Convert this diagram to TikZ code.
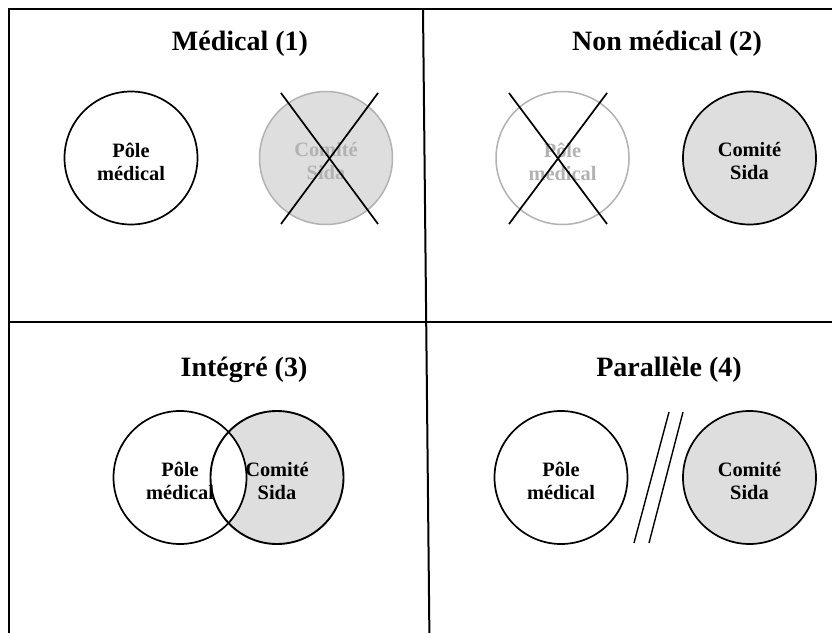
\documentclass[tikz,border=0pt]{standalone}
\usepackage{fontspec}
\setmainfont{Liberation Serif}
\begin{document}
\begin{tikzpicture}[x=1pt,y=-1pt,
  frame/.style={line width=2pt,black},
  circ/.style={circle,draw=black,line width=1.7pt,minimum size=133pt,inner sep=0pt},
  ghost/.style={circ,draw=black!30,line width=1.5pt},
  lbl/.style={align=center,inner sep=0pt,font=\fontsize{20.4}{23}\selectfont\bfseries},
  ghostlbl/.style={lbl,text=black!30},
  grayfill/.style={fill=black!13},
  title/.style={font=\fontsize{28}{32}\selectfont\bfseries,inner sep=0pt},
  cross/.style={line width=1.7pt,black},
  par/.style={line width=1.4pt,black}]
\useasboundingbox (0,0) rectangle (832,632);
\clip (0,0) rectangle (832,632);
\fill[white] (0,0) rectangle (832,632);
% frame
\draw[frame] (9,645) -- (9,9) -- (845,9);
\draw[frame] (9,322) -- (845,322);
\draw[frame] (423,9) -- (429.5,645);
% panel 1
\node[title] (t1) at (240,44) {Médical (1)};
\node[circ] (p1) at (131,158) {};
\node[lbl] (p1t) at (131,161.5) {Pôle\\médical};
\node[ghost,grayfill] (c1) at (326,158) {};
\node[ghostlbl] (c1t) at (326,161.5) {Comité\\Sida};
\coordinate (x1a) at (281,93); \coordinate (x1b) at (378,224);
\coordinate (x1c) at (378,93); \coordinate (x1d) at (281,224);
\draw[cross] (x1a) -- (x1b);
\draw[cross] (x1c) -- (x1d);
% panel 2
\node[title] (t2) at (667,44) {Non médical (2)};
\node[ghost] (p2) at (562.5,158) {};
\node[ghostlbl] (p2t) at (562.5,161.5) {Pôle\\médical};
\node[circ,grayfill] (c2) at (749.5,158) {};
\node[lbl] (c2t) at (749.5,161.5) {Comité\\Sida};
\coordinate (x2a) at (509,93); \coordinate (x2b) at (607,224);
\coordinate (x2c) at (607,93); \coordinate (x2d) at (509,224);
\draw[cross] (x2a) -- (x2b);
\draw[cross] (x2c) -- (x2d);
% panel 3
\node[title] (t3) at (244,370) {Intégré (3)};
\node[circ,grayfill,draw=none] (c3) at (277,477.5) {};
\node[circ,fill=white,draw=none] (p3) at (180,477.5) {};
\draw[line width=1.9pt] (c3.center) circle[radius=66.5pt];
\draw[line width=1.7pt] (p3.center) circle[radius=66.5pt];
\node[lbl] (p3t) at (180,481) {Pôle\\médical};
\node[lbl] (c3t) at (277,481) {Comité\\Sida};
% panel 4
\node[title] (t4) at (669,370) {Parallèle (4)};
\node[circ] (p4) at (561,477.5) {};
\node[lbl] (p4t) at (561,481) {Pôle\\médical};
\node[circ,grayfill] (c4) at (749.5,477.5) {};
\node[lbl] (c4t) at (749.5,481) {Comité\\Sida};
\coordinate (l1a) at (669,412); \coordinate (l1b) at (634,543);
\coordinate (l2a) at (683,412); \coordinate (l2b) at (649,543);
\draw[par] (l1a) -- (l1b);
\draw[par] (l2a) -- (l2b);
\end{tikzpicture}
\end{document}
